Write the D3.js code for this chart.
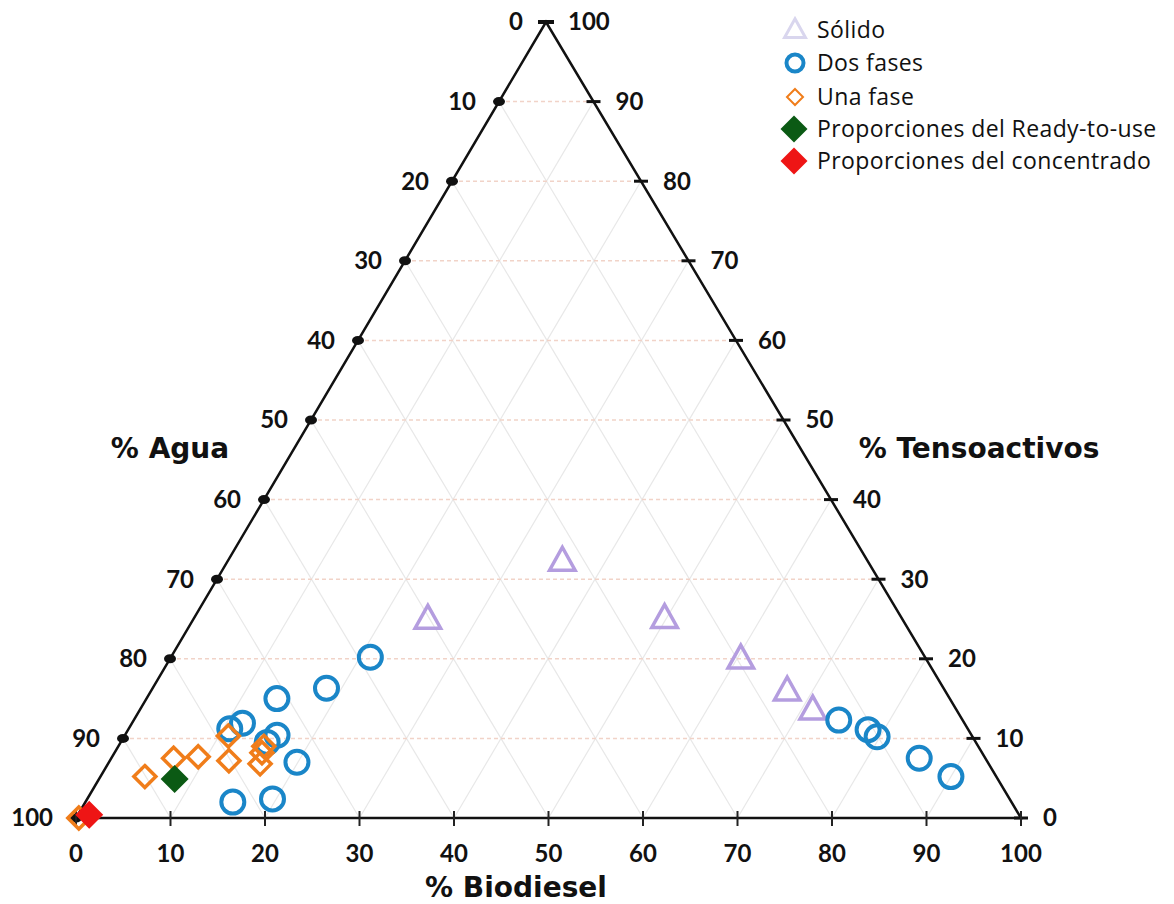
<!DOCTYPE html>
<html><head><meta charset="utf-8">
<script src="https://cdn.jsdelivr.net/npm/d3@7"></script>
<style>body{margin:0;background:#fff}svg{display:block}</style>
</head><body>
<svg id="chart" width="1174" height="904"></svg>
<script>
// ---- data: [biodiesel %, tensoactivos %]  (agua = 100 - both) ----
const tickValues = [0,10,20,30,40,50,60,70,80,90,100];
const solido = [[35.4,32.3],[24.8,25.0],[49.8,25.1],[60.4,20.0],[67.3,16.0],[71.2,13.6]];
const dosFases = [[21.1,20.2],[18.4,16.3],[13.8,15.0],[11.7,11.9],[10.7,11.2],[16.1,10.4],[15.5,9.5],[19.9,7.0],[15.6,2.0],[19.6,2.4],
                  [74.6,12.3],[78.3,11.1],[79.7,10.2],[85.5,7.5],[90.0,5.2]];
const unaFase = [[0.3,0.0],[4.7,5.2],[6.6,7.5],[9.1,7.7],[11.0,10.3],[12.6,7.2],[15.4,9.0],[15.6,8.2],[16.1,6.8]];
const readyToUse = [[8.0,4.9]];
const concentrado = [[1.2,0.4]];
const legendLabels = ["Sólido","Dos fases","Una fase","Proporciones del Ready-to-use","Proporciones del concentrado"];
const axisTitles = ["% Agua","% Tensoactivos","% Biodiesel"];

const svg = d3.select("#chart");
const xB = d3.scaleLinear().domain([0,100]).range([76,1021]);
const yT = d3.scaleLinear().domain([0,100]).range([818,22]);
const xShift = d3.scaleLinear().domain([0,100]).range([0,470]);
const P = (b,t) => [xB(b)+xShift(t), yT(t)];

const colors = {solido:"#b49ddf", dos:"#1a86c8", una:"#f07d1a", ready:"#0b5a14", conc:"#ee1515"};

// ---- grid ----
const grid = svg.append("g");
tickValues.filter(v=>v>0&&v<100).forEach(v=>{
  let a=P(v,0), b=P(v,100-v);
  grid.append("line").attr("x1",a[0]).attr("y1",a[1]).attr("x2",b[0]).attr("y2",b[1])
    .attr("stroke","#e8e8e8").attr("stroke-width",1.2);
  a=P(100-v,0); b=P(0,100-v);
  grid.append("line").attr("x1",a[0]).attr("y1",a[1]).attr("x2",b[0]).attr("y2",b[1])
    .attr("stroke","#e8e8e8").attr("stroke-width",1.2);
});
tickValues.filter(v=>v>0&&v<100).forEach(v=>{
  const a=P(0,v), b=P(100-v,v);
  grid.append("line").attr("x1",a[0]).attr("y1",a[1]).attr("x2",b[0]).attr("y2",b[1])
    .attr("stroke","#f1d3c8").attr("stroke-width",1.5).attr("stroke-dasharray","4,3");
});

// ---- triangle frame ----
const vTop=P(0,100), vBL=P(0,0), vBR=P(100,0);
svg.append("path").attr("d",`M${vBL}L${vTop}L${vBR}Z`).attr("fill","none")
  .attr("stroke","#111").attr("stroke-width",2.5).attr("stroke-linejoin","miter");

const axes = svg.append("g");
const tickFont = {family:"Lato, 'Open Sans', sans-serif", size:"24px", weight:"bold"};
function txt(g,x,y,s,anchor){
  return g.append("text").attr("x",x).attr("y",y).attr("dy","0.35em").attr("text-anchor",anchor)
    .attr("font-family",tickFont.family).attr("font-size",tickFont.size).attr("font-weight",tickFont.weight)
    .attr("fill","#111").text(s);
}
// left axis (agua): dots, label = 100 - T
tickValues.forEach(t=>{
  const [x,y]=P(0,t);
  if(t<100) axes.append("ellipse").attr("cx",x).attr("cy",y).attr("rx",6).attr("ry",4.5).attr("fill","#111");
  else axes.append("line").attr("x1",x-8).attr("x2",x+8).attr("y1",y).attr("y2",y).attr("stroke","#111").attr("stroke-width",4);
  txt(axes,x-23,y,String(100-t),"end");
});
// right axis (tensoactivos): short horizontal dashes
tickValues.forEach(t=>{
  const [x,y]=P(100-t,t);
  axes.append("line").attr("x1",x-7).attr("x2",x+7).attr("y1",y).attr("y2",y).attr("stroke","#111").attr("stroke-width",3);
  txt(axes,x+22,y,String(t),"start");
});
// bottom axis (biodiesel)
tickValues.forEach(b=>{
  const [x,y]=P(b,0);
  axes.append("line").attr("x1",x).attr("x2",x).attr("y1",y-7).attr("y2",y+8).attr("stroke","#222").attr("stroke-width",2);
  txt(axes,x,y+36,String(b),"middle");
});

// axis titles
const titleStyle = g => g.attr("font-family","'DejaVu Sans', Verdana, sans-serif").attr("font-weight","bold")
  .attr("font-size","28px").attr("fill","#111");
svg.append("text").attr("x",170).attr("y",458).attr("text-anchor","middle").call(titleStyle).text(axisTitles[0]);
svg.append("text").attr("x",979).attr("y",458).attr("text-anchor","middle").call(titleStyle).text(axisTitles[1]);
svg.append("text").attr("x",516).attr("y",897).attr("text-anchor","middle").call(titleStyle).text(axisTitles[2]);

// ---- markers ----
const triPath = (s)=>`M0,${-s*0.62}L${s*0.58},${s*0.42}L${-s*0.58},${s*0.42}Z`;
const diaPath = (s)=>`M0,${-s}L${s},0L0,${s}L${-s},0Z`;
const marks = svg.append("g");
marks.selectAll(".tri").data(solido).join("path").attr("class","tri")
  .attr("transform",d=>`translate(${P(d[0],d[1])})`).attr("d",triPath(22))
  .attr("fill","none").attr("stroke",colors.solido).attr("stroke-width",3.5).attr("stroke-linejoin","miter");
marks.selectAll(".circ").data(dosFases).join("circle").attr("class","circ")
  .attr("cx",d=>P(d[0],d[1])[0]).attr("cy",d=>P(d[0],d[1])[1]).attr("r",11.5)
  .attr("fill","none").attr("stroke",colors.dos).attr("stroke-width",4);
marks.selectAll(".dia").data(unaFase).join("path").attr("class","dia")
  .attr("transform",d=>`translate(${P(d[0],d[1])})`).attr("d",diaPath(11))
  .attr("fill","none").attr("stroke",colors.una).attr("stroke-width",3.5);
marks.selectAll(".ready").data(readyToUse).join("path").attr("class","ready")
  .attr("transform",d=>`translate(${P(d[0],d[1])})`).attr("d",diaPath(14)).attr("fill",colors.ready);
marks.selectAll(".conc").data(concentrado).join("path").attr("class","conc")
  .attr("transform",d=>`translate(${P(d[0],d[1])})`).attr("d",diaPath(14)).attr("fill",colors.conc);

// ---- legend ----
const leg = svg.append("g");
const legY = [30,63,97,129,161];
const lx = 795;
leg.append("path").attr("transform",`translate(${lx},${legY[0]})`).attr("d",triPath(18))
  .attr("fill","none").attr("stroke","#d9d6ee").attr("stroke-width",3);
leg.append("circle").attr("cx",lx).attr("cy",legY[1]).attr("r",8.5).attr("fill","none").attr("stroke",colors.dos).attr("stroke-width",4);
leg.append("path").attr("transform",`translate(${lx},${legY[2]})`).attr("d",diaPath(8))
  .attr("fill","none").attr("stroke",colors.una).attr("stroke-width",2);
leg.append("path").attr("transform",`translate(${lx-1},${legY[3]})`).attr("d",diaPath(13.5)).attr("fill",colors.ready);
leg.append("path").attr("transform",`translate(${lx-1},${legY[4]})`).attr("d",diaPath(13.5)).attr("fill",colors.conc);
legendLabels.forEach((s,i)=>{
  leg.append("text").attr("x",817).attr("y",legY[i]).attr("dy","0.35em")
    .attr("font-family","'Open Sans', Lato, sans-serif").attr("font-size","23px")
    .attr("letter-spacing","0.4px").attr("fill","#111").text(s);
});
</script>
</body></html>
